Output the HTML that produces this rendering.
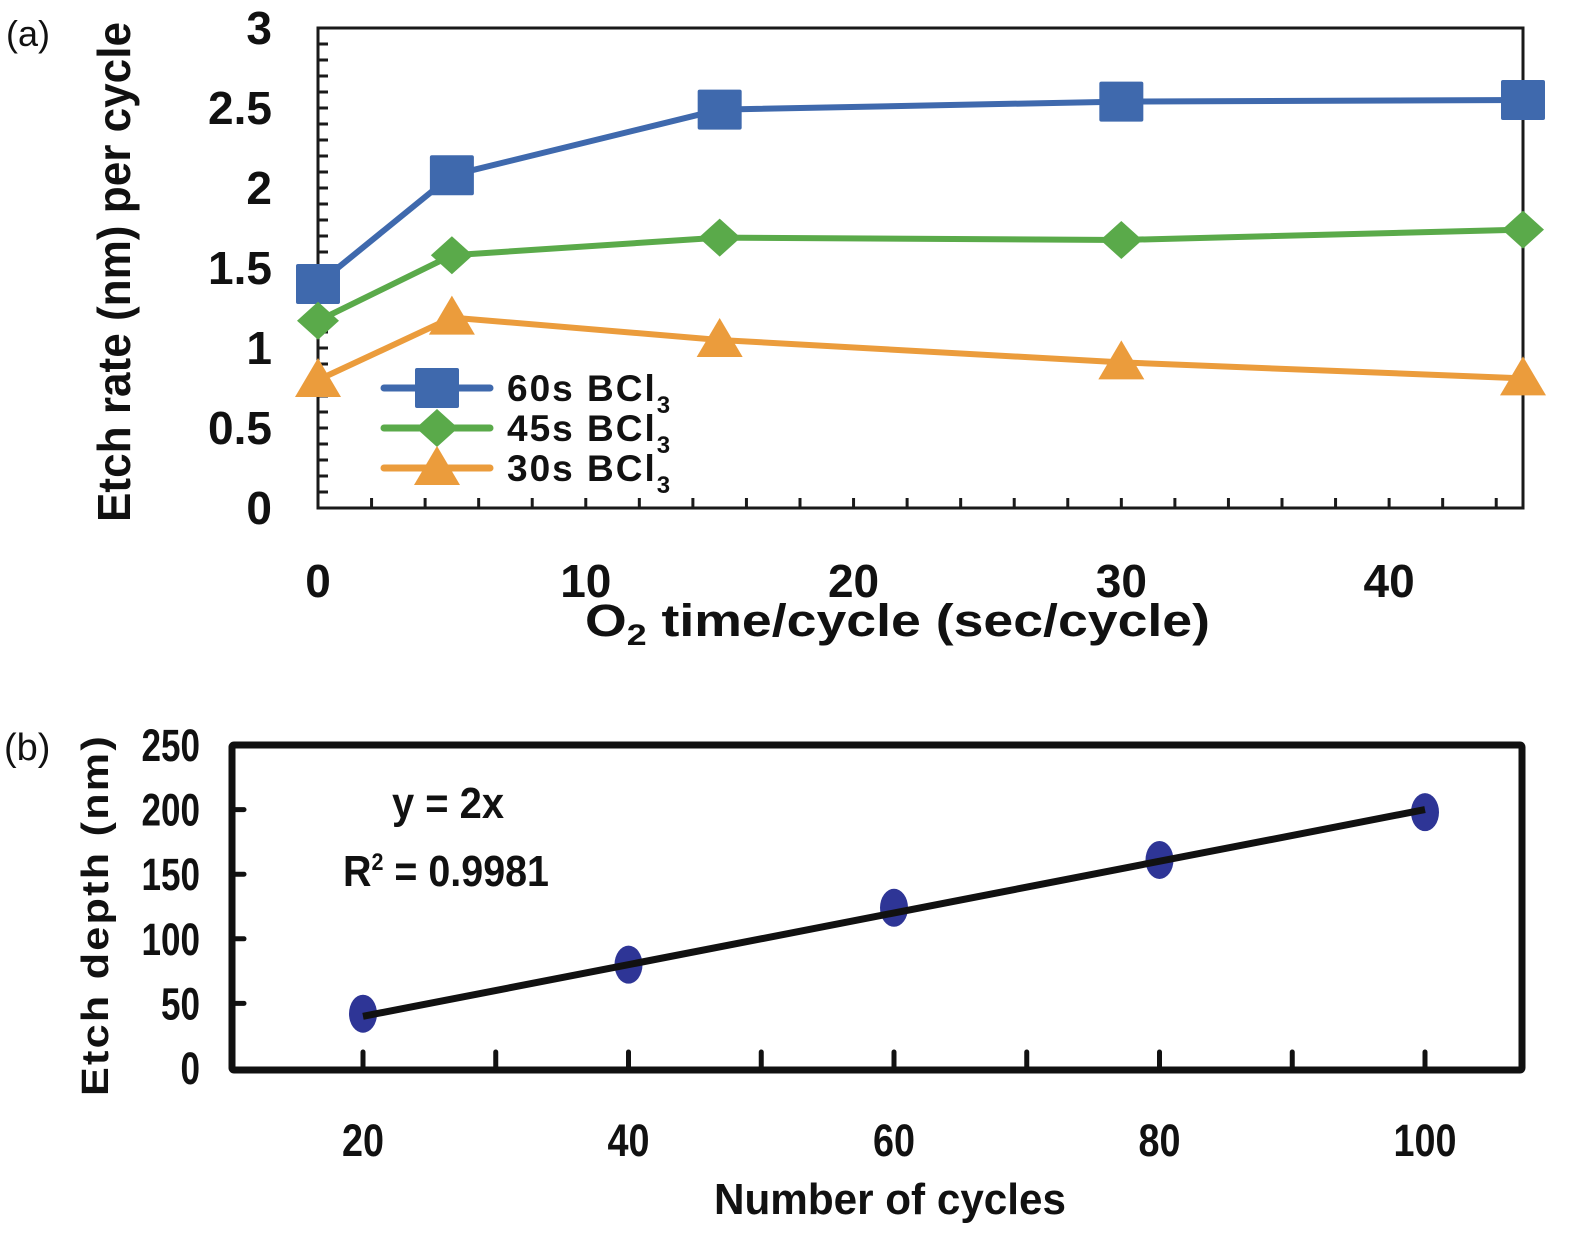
<!DOCTYPE html>
<html><head><meta charset="utf-8"><style>
html,body{margin:0;padding:0;background:#fff;}
svg{display:block;}
text{font-family:"Liberation Sans",Arial,sans-serif;font-weight:bold;fill:#111;}
</style></head><body>
<svg id="fig" width="1575" height="1237" viewBox="0 0 1575 1237" xmlns="http://www.w3.org/2000/svg">
<g id="chartA"></g>
<g id="chartB"></g>
</svg>
<script>
// ---- Chart (a) data ----
const aXValues = [0, 5, 15, 30, 45];
const a60 = [1.40, 2.08, 2.49, 2.54, 2.55];
const a45 = [1.17, 1.58, 1.69, 1.675, 1.74];
const a30 = [0.80, 1.19, 1.05, 0.91, 0.81];
const aSeriesNames = ["60s BCl", "45s BCl", "30s BCl"];
const aYTicks = [0, 0.5, 1, 1.5, 2, 2.5, 3];
const aYTickLabels = ["0", "0.5", "1", "1.5", "2", "2.5", "3"];
const aXTicks = [0, 10, 20, 30, 40];
// ---- Chart (b) data ----
const bCycles = [20, 40, 60, 80, 100];
const bDepth = [42, 80, 124, 161, 198];
const bFitX = [20, 100];
const bFitY = [40, 200];
const bYTicks = [0, 50, 100, 150, 200, 250];
const bXTicks = [20, 40, 60, 80, 100];

const NS = "http://www.w3.org/2000/svg";
function mk(parent, tag, attrs, txt){
  const e = document.createElementNS(NS, tag);
  for (const k in attrs) e.setAttribute(k, attrs[k]);
  if (txt !== undefined) e.textContent = txt;
  parent.appendChild(e);
  return e;
}

// ---------- Chart A ----------
const A = document.getElementById('chartA');
const ax = v => 318 + (v - 0) * (1523 - 318) / 45;
const ay = v => 508 - v * 160;
let el;
el = mk(A, 'text', {x: 6, y: 46, style: 'font-weight:normal;font-size:36px;'}, '(a)');


el = mk(A, 'rect', {x: ax(0), y: ay(3), width: ax(45) - ax(0), height: ay(0) - ay(3), fill: 'none', stroke: '#1a1a1a', 'stroke-width': 3});


for (let i = 1; i < 30; i++) {
  el = mk(A, 'line', {x1: ax(0), x2: ax(0) + 10, y1: ay(i / 10), y2: ay(i / 10), stroke: '#1a1a1a', 'stroke-width': 3});
  
  
}
for (let v = 2; v < 45; v += 2) {
  el = mk(A, 'line', {x1: ax(v), x2: ax(v), y1: ay(0), y2: ay(0) - 10, stroke: '#1a1a1a', 'stroke-width': 3});
  
  
}
aYTicks.forEach((v, i) => {
  el = mk(A, 'text', {x: 272, y: ay(v) + 16, 'text-anchor': 'end', style: 'font-size:46px;'}, aYTickLabels[i]);
  
  
});
aXTicks.forEach(v => {
  el = mk(A, 'text', {x: ax(v), y: 597, 'text-anchor': 'middle', style: 'font-size:46px;'}, String(v));
  
  
});
el = mk(A, 'text', {x: 0, y: 0, 'text-anchor': 'middle', transform: 'translate(130,272) rotate(-90)', style: 'font-size:46px;', textLength: 500, lengthAdjust: 'spacingAndGlyphs'}, 'Etch rate (nm) per cycle');


el = mk(A, 'text', {x: 585, y: 636, style: 'font-size:45px;', textLength: 625, lengthAdjust: 'spacingAndGlyphs'});


el.innerHTML = 'O<tspan dy="9" style="font-size:30px">2</tspan><tspan dy="-9"> time/cycle (sec/cycle)</tspan>';

const colors = ['#3f69ad', '#5aaa4a', '#eb9c3c'];
const series = [a60, a45, a30];
const names = ['series-60s', 'series-45s', 'series-30s'];
function marker(g, kind, cx, cy, col) {
  if (kind === 0) return mk(g, 'rect', {x: cx - 22, y: cy - 20, width: 44, height: 40, fill: col, rx: 2});
  if (kind === 1) return mk(g, 'polygon', {points: `${cx},${cy - 19} ${cx + 21},${cy} ${cx},${cy + 19} ${cx - 21},${cy}`, fill: col});
  return mk(g, 'polygon', {points: `${cx},${cy - 22} ${cx + 23},${cy + 17} ${cx - 23},${cy + 17}`, fill: col});
}
series.forEach((s, k) => {
  const g = mk(A, 'g', {});
  
  
  el = mk(g, 'polyline', {points: s.map((v, i) => ax(aXValues[i]) + ',' + ay(v)).join(' '), fill: 'none', stroke: colors[k], 'stroke-width': 6, 'stroke-linejoin': 'round'});
  
  
  s.forEach((v, i) => {
    el = marker(g, k, ax(aXValues[i]), ay(v), colors[k]);
    
    
  });
});
const legY = [388, 428, 468];
aSeriesNames.forEach((n, k) => {
  const g = mk(A, 'g', {});
  
  
  mk(g, 'line', {x1: 384, x2: 490, y1: legY[k], y2: legY[k], stroke: colors[k], 'stroke-width': 7, 'stroke-linecap': 'round'});
  marker(g, k, 437, legY[k], colors[k]);
  const t = mk(g, 'text', {x: 507, y: legY[k] + 13, style: 'font-size:37px;letter-spacing:2px;'}, n);
  mk(t, 'tspan', {dy: 12, style: 'font-size:24px;letter-spacing:0'}, '3');
});

// ---------- Chart B ----------
const B = document.getElementById('chartB');
const bx = v => 363 + (v - 20) * (1425 - 363) / 80;
const by = v => 1068 - v * (1068 - 745) / 250;
el = mk(B, 'text', {x: 4, y: 760, style: 'font-weight:normal;font-size:38px;'}, '(b)');


el = mk(B, 'rect', {x: 232, y: 745, width: 1290, height: 325, fill: 'none', stroke: '#111', 'stroke-width': 7, rx: 2});


[30, 50, 70, 90].concat(bXTicks).forEach(v => {
  el = mk(B, 'line', {x1: bx(v), x2: bx(v), y1: 1068, y2: 1052, stroke: '#111', 'stroke-width': 5, 'stroke-linecap': 'round'});
  
  
});
bYTicks.slice(1, 5).forEach(v => {
  el = mk(B, 'line', {x1: 232, x2: 244, y1: by(v), y2: by(v), stroke: '#111', 'stroke-width': 5, 'stroke-linecap': 'round'});
  
  
});
bYTicks.forEach(v => {
  const s = String(v);
  el = mk(B, 'text', {x: 200, y: by(v) + 16, 'text-anchor': 'end', style: 'font-size:45px;', textLength: s.length * 19.5, lengthAdjust: 'spacingAndGlyphs'}, s);
  
  
});
bXTicks.forEach(v => {
  const s = String(v);
  el = mk(B, 'text', {x: bx(v), y: 1156, 'text-anchor': 'middle', style: 'font-size:45px;', textLength: s.length * 21, lengthAdjust: 'spacingAndGlyphs'}, s);
  
  
});
el = mk(B, 'text', {x: 0, y: 0, 'text-anchor': 'middle', transform: 'translate(108,915) rotate(-90)', style: 'font-size:38px;letter-spacing:2px;', textLength: 362, lengthAdjust: 'spacingAndGlyphs'}, 'Etch depth (nm)');


el = mk(B, 'text', {x: 890, y: 1214, 'text-anchor': 'middle', style: 'font-size:44px;', textLength: 352, lengthAdjust: 'spacingAndGlyphs'}, 'Number of cycles');


el = mk(B, 'text', {x: 392, y: 818, style: 'font-size:44px;', textLength: 112, lengthAdjust: 'spacingAndGlyphs'}, 'y = 2x');


el = mk(B, 'text', {x: 343, y: 886, style: 'font-size:44px;'});


el.innerHTML = '<tspan>R</tspan><tspan dy="-16" style="font-size:24px">2</tspan><tspan dy="16"> = 0.9981</tspan>';
el.setAttribute('textLength', 206);
el.setAttribute('lengthAdjust', 'spacingAndGlyphs');
bCycles.forEach((c, i) => {
  el = mk(B, 'ellipse', {cx: bx(c), cy: by(bDepth[i]), rx: 14, ry: 19, fill: '#2e3596'});
  
  
});
el = mk(B, 'line', {x1: bx(bFitX[0]), y1: by(bFitY[0]), x2: bx(bFitX[1]), y2: by(bFitY[1]), stroke: '#111', 'stroke-width': 7});


</script>
</body></html>
